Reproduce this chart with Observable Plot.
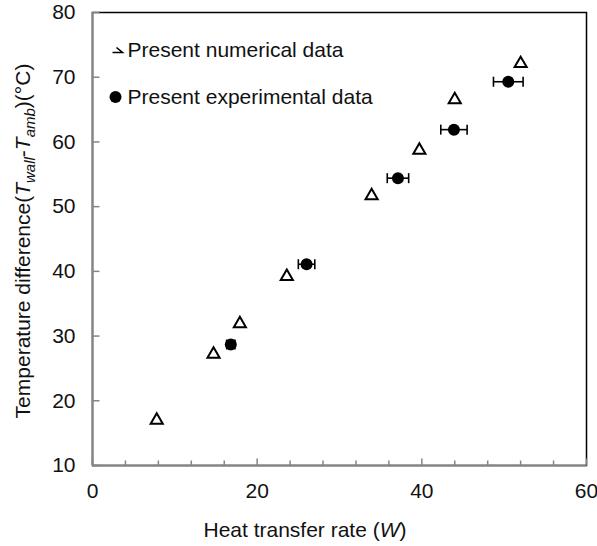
<!DOCTYPE html>
<html>
<head>
<meta charset="utf-8">
<script src="https://cdn.jsdelivr.net/npm/d3@7"></script>
<script src="https://cdn.jsdelivr.net/npm/@observablehq/plot@0.6"></script>
<style>
  html, body { margin: 0; padding: 0; background: #fff; }
  #chart svg { display: block; }
</style>
</head>
<body>
<div id="chart"></div>
<script>
// ---- data ----
const numX = [7.8, 14.7, 17.9, 23.6, 33.9, 39.7, 44.0, 52.0];
const numY = [17.0, 27.2, 31.9, 39.2, 51.7, 58.7, 66.5, 72.1];
const expX = [16.8, 26.0, 37.1, 43.9, 50.5];
const expY = [28.7, 41.1, 54.4, 61.9, 69.3];
const expErr = [0.5, 1.0, 1.3, 1.6, 1.8];
const xTickLabels = [0, 20, 40, 60];
const xMinorTicks = d3.range(0, 61, 4);
const yTicks = [10, 20, 30, 40, 50, 60, 70, 80];
const legendLabels = ["Present numerical data", "Present experimental data"];

const num = numX.map((x, i) => ({x, y: numY[i]}));
const exp = expX.map((x, i) => ({x, y: expY[i], e: expErr[i]}));

// ---- custom symbols ----
const tickUp = {draw(ctx) { ctx.moveTo(0, 0); ctx.lineTo(0, -5); }};
const tickUpMajor = {draw(ctx) { ctx.moveTo(0, 0); ctx.lineTo(0, -7); }};
const tickRight = {draw(ctx) { ctx.moveTo(0, 0); ctx.lineTo(7, 0); }};
const cap = {draw(ctx) { ctx.moveTo(0, -5); ctx.lineTo(0, 5); }};
const legendGlyph = {draw(ctx) { ctx.moveTo(-1, -2.5); ctx.lineTo(5, 2.5); ctx.lineTo(-5, 2.5); }};

const axisGray = "#858585";
const FONT = "'Liberation Sans', Arial, Helvetica, sans-serif";

const plot = Plot.plot({
  width: 597,
  height: 546,
  marginLeft: 92,
  marginRight: 11,
  marginTop: 12,
  marginBottom: 81,
  style: {fontFamily: FONT, fontSize: "21px", color: "#111", background: "#fff"},
  x: {domain: [0, 60]},
  y: {domain: [10, 80]},
  marks: [
    Plot.frame({stroke: "#000", strokeWidth: 1.5}),
    Plot.ruleX([0], {stroke: axisGray, strokeWidth: 2}),
    Plot.ruleY([10], {stroke: axisGray, strokeWidth: 2}),
    Plot.dot(xMinorTicks.filter(d => d % 20 !== 0), {x: d => d, frameAnchor: "bottom", symbol: tickUp, stroke: axisGray, fill: "none", strokeWidth: 1.5}),
    Plot.dot(xTickLabels, {x: d => d, frameAnchor: "bottom", symbol: tickUpMajor, stroke: axisGray, fill: "none", strokeWidth: 1.5}),
    Plot.dot(yTicks, {y: d => d, frameAnchor: "left", symbol: tickRight, stroke: axisGray, fill: "none", strokeWidth: 1.5}),
    Plot.axisX({ticks: xTickLabels, tickSize: 0, tickPadding: 18, label: null, tickFormat: d => String(d)}),
    Plot.axisY({ticks: yTicks, tickSize: 0, tickPadding: 17, label: null, tickFormat: d => String(d)}),
    // error bars
    Plot.link(exp, {x1: d => d.x - d.e, x2: d => d.x + d.e, y1: "y", y2: "y", stroke: "#000", strokeWidth: 1.6}),
    Plot.dot(exp, {x: d => d.x - d.e, y: "y", symbol: cap, stroke: "#000", fill: "none", strokeWidth: 1.6}),
    Plot.dot(exp, {x: d => d.x + d.e, y: "y", symbol: cap, stroke: "#000", fill: "none", strokeWidth: 1.6}),
    // experimental points
    Plot.dot(exp, {x: "x", y: "y", r: 6, fill: "#000", stroke: "none"}),
    // numerical points
    Plot.dot(num, {x: "x", y: "y", symbol: "triangle", r: 4.5, stroke: "#000", fill: "none", strokeWidth: 2}),
    // legend
    Plot.dot([legendLabels[0]], {frameAnchor: "top-left", dx: 25, dy: 37.5, symbol: legendGlyph, stroke: "#000", fill: "none", strokeWidth: 1.6}),
    Plot.dot([legendLabels[1]], {frameAnchor: "top-left", dx: 23, dy: 84.5, r: 6, fill: "#000", stroke: "none"}),
    Plot.text([legendLabels[0]], {text: d => d, frameAnchor: "top-left", dx: 35, dy: 37.5, textAnchor: "start", lineAnchor: "middle", fill: "#111"}),
    Plot.text([legendLabels[1]], {text: d => d, frameAnchor: "top-left", dx: 35, dy: 84.5, textAnchor: "start", lineAnchor: "middle", fill: "#111"})
  ]
});

document.getElementById("chart").appendChild(plot);

// ---- axis titles with italic / subscripts ----
const svg = d3.select(plot);
const xt = svg.append("text")
  .attr("x", 305).attr("y", 537)
  .attr("text-anchor", "middle")
  .attr("fill", "#111")
  .style("font-family", FONT).style("font-size", "21px");
xt.append("tspan").text("Heat transfer rate (");
xt.append("tspan").attr("font-style", "italic").text("W");
xt.append("tspan").text(")");

const yt = svg.append("text")
  .attr("transform", "translate(30,241) rotate(-90)")
  .attr("text-anchor", "middle")
  .attr("fill", "#111")
  .style("font-family", FONT).style("font-size", "21px");
yt.append("tspan").text("Temperature difference(");
yt.append("tspan").attr("font-style", "italic").text("T");
yt.append("tspan").attr("font-style", "italic").attr("font-size", "15px").attr("dy", 5).text("wall");
yt.append("tspan").attr("dy", -5).text("-");
yt.append("tspan").attr("font-style", "italic").text("T");
yt.append("tspan").attr("font-style", "italic").attr("font-size", "15px").attr("dy", 5).text("amb");
yt.append("tspan").attr("dy", -5).text(")(°C)");
</script>
</body>
</html>
